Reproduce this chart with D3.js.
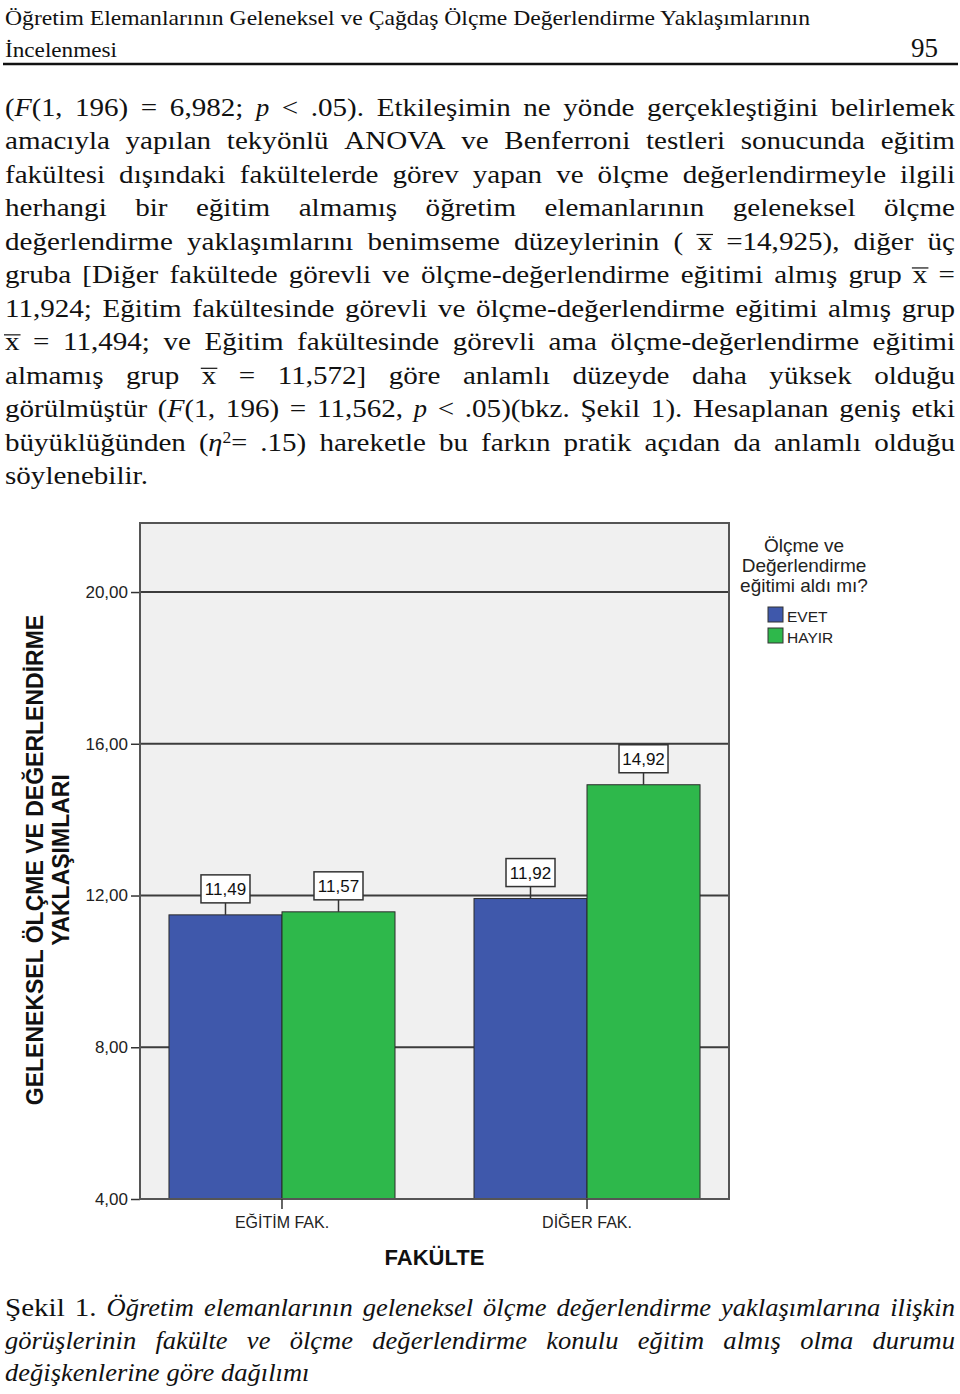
<!DOCTYPE html>
<html>
<head>
<meta charset="utf-8">
<script src="https://cdn.jsdelivr.net/npm/d3@7"></script>
<style>
  html, body { margin: 0; padding: 0; background: #fff; }
  svg { display: block; }
</style>
</head>
<body>
<div id="page"></div>
<script>
// ---- data ----
const categories = ["EĞİTİM FAK.", "DİĞER FAK."];
const groups = ["EVET", "HAYIR"];
const evetValues = [11.49, 11.92];
const hayirValues = [11.57, 14.92];
const yTicks = [4, 8, 12, 16, 20];
const legendTitle = ["Ölçme ve", "Değerlendirme", "eğitimi aldı mı?"];
const yTitle = ["GELENEKSEL ÖLÇME VE DEĞERLENDİRME", "YAKLAŞIMLARI"];
const xTitle = "FAKÜLTE";

const headerLines = ["Öğretim Elemanlarının Geleneksel ve Çağdaş Ölçme Değerlendirme Yaklaşımlarının", "İncelenmesi"];
const pageNumber = "95";

// _ toggles italic, ^ toggles superscript, # toggles overline
const bodyLines = [
  "(_F_(1, 196) = 6,982; _p_ < .05). Etkileşimin ne yönde gerçekleştiğini belirlemek",
  "amacıyla yapılan tekyönlü ANOVA ve Benferroni testleri sonucunda eğitim",
  "fakültesi dışındaki fakültelerde görev yapan ve ölçme değerlendirmeyle ilgili",
  "herhangi bir eğitim almamış öğretim elemanlarının geleneksel ölçme",
  "değerlendirme yaklaşımlarını benimseme düzeylerinin ( #x# =14,925), diğer üç",
  "gruba [Diğer fakültede görevli ve ölçme-değerlendirme eğitimi almış grup #x# =",
  "11,924; Eğitim fakültesinde görevli ve ölçme-değerlendirme eğitimi almış grup",
  "#x# = 11,494; ve Eğitim fakültesinde görevli ama ölçme-değerlendirme eğitimi",
  "almamış grup #x# = 11,572] göre anlamlı düzeyde daha yüksek olduğu",
  "görülmüştür (_F_(1, 196) = 11,562, _p_ < .05)(bkz. Şekil 1). Hesaplanan geniş etki",
  "büyüklüğünden (_η_^2^= .15) hareketle bu farkın pratik açıdan da anlamlı olduğu",
  "söylenebilir."
];
const captionLines = [
  "_Şekil_ _1._ Öğretim elemanlarının geleneksel ölçme değerlendirme yaklaşımlarına ilişkin",
  "görüşlerinin fakülte ve ölçme değerlendirme konulu eğitim almış olma durumu",
  "değişkenlerine göre dağılımı"
];

// ---- setup ----
const W = 960, H = 1394;
const serif = "'Liberation Serif', 'DejaVu Serif', serif";
const sans = "'Liberation Sans', Arial, sans-serif";

const svg = d3.select("#page").append("svg")
    .attr("width", W)
    .attr("height", H);

const trLocale = d3.formatLocale({decimal: ",", thousands: ".", grouping: [3], currency: ["", ""]});
const fmt = trLocale.format(".2f");

// ---- text helpers ----
// Times is narrower than the book face of the original, so upright runs get widened
const WIDEN_UP = 1.14, WIDEN_IT = 1.04;

function addRuns(text, word, size, baseItalic) {
    let italic = baseItalic, sup = false, over = false;
    const runs = [];
    word.split(/([_^#])/).forEach(tok => {
        if (tok === "_") { italic = !italic; return; }
        if (tok === "^") { sup = !sup; return; }
        if (tok === "#") { over = !over; return; }
        if (!tok) return;
        const ts = text.append("tspan")
            .attr("font-style", italic ? "italic" : "normal")
            .text(tok);
        if (sup) ts.attr("font-size", size * 0.62).attr("baseline-shift", "super");
        runs.push({node: ts.node(), italic});
    });
    // target width of this word
    return d3.sum(runs, r => r.node.getComputedTextLength() * (r.italic ? WIDEN_IT : WIDEN_UP));
}

function drawLine(parent, line, y, o) {
    const words = line.split(" ");
    const items = words.map(w => {
        const t = parent.append("text")
            .attr("y", y)
            .attr("font-family", serif)
            .attr("font-size", o.size)
            .attr("fill", "#111");
        const wdt = addRuns(t, w, o.size, o.italic);
        return {t, w: wdt, over: w.includes("#")};
    });
    let total = d3.sum(items, d => d.w);
    const minGap = o.size * 0.22;
    // squeeze if a line would not fit
    if (total + minGap * (items.length - 1) > o.x1 - o.x0) {
        const f = (o.x1 - o.x0 - minGap * (items.length - 1)) / total;
        items.forEach(d => d.w *= f);
        total = d3.sum(items, d => d.w);
    }
    const gap = (o.justify && items.length > 1)
        ? (o.x1 - o.x0 - total) / (items.length - 1)
        : o.size * 0.27;
    let x = o.x0;
    items.forEach(d => {
        d.t.attr("x", x)
            .attr("textLength", d.w)
            .attr("lengthAdjust", "spacingAndGlyphs");
        if (d.over) {
            parent.append("line")
                .attr("x1", x - 1).attr("x2", x + d.w + 1)
                .attr("y1", y - o.size * 0.6).attr("y2", y - o.size * 0.6)
                .attr("stroke", "#111").attr("stroke-width", 1.2);
        }
        x += d.w + gap;
    });
}

// ---- header ----
const header = svg.append("g");
header.append("text")
    .attr("x", 5).attr("y", 25)
    .attr("font-family", serif).attr("font-size", 21).attr("fill", "#111")
    .attr("textLength", 805).attr("lengthAdjust", "spacingAndGlyphs")
    .text(headerLines[0]);
header.append("text")
    .attr("x", 5).attr("y", 57)
    .attr("font-family", serif).attr("font-size", 21).attr("fill", "#111")
    .attr("textLength", 112).attr("lengthAdjust", "spacingAndGlyphs")
    .text(headerLines[1]);
header.append("text")
    .attr("x", 938).attr("y", 57)
    .attr("text-anchor", "end")
    .attr("font-family", serif).attr("font-size", 27).attr("fill", "#111")
    .text(pageNumber);
header.append("line")
    .attr("x1", 3).attr("x2", 958)
    .attr("y1", 64).attr("y2", 64)
    .attr("stroke", "#111").attr("stroke-width", 2.5);

// ---- body paragraph ----
const body = svg.append("g");
bodyLines.forEach((line, i) => {
    drawLine(body, line, 116 + i * 33.45, {
        size: 25.5, x0: 5, x1: 955, italic: false,
        justify: i < bodyLines.length - 1
    });
});

// ---- chart ----
const plot = {left: 140, right: 729, top: 523, bottom: 1199};

const y = d3.scaleLinear()
    .domain([4, 21.82])
    .range([plot.bottom, plot.top]);

const x = d3.scaleBand()
    .domain(categories)
    .range([plot.left, plot.right])
    .paddingInner(0.259)
    .paddingOuter(0.095);

const xSub = d3.scaleBand()
    .domain(groups)
    .range([0, x.bandwidth()]);

const color = d3.scaleOrdinal()
    .domain(groups)
    .range(["#3f58ab", "#2eb84b"]);

const chart = svg.append("g");

chart.append("rect")
    .attr("x", plot.left).attr("y", plot.top)
    .attr("width", plot.right - plot.left)
    .attr("height", plot.bottom - plot.top)
    .attr("fill", "#f0f0f0");

// gridlines
chart.selectAll(".grid")
    .data(yTicks)
    .join("line")
    .attr("class", "grid")
    .attr("x1", plot.left).attr("x2", plot.right)
    .attr("y1", d => y(d)).attr("y2", d => y(d))
    .attr("stroke", "#3c3c3c")
    .attr("stroke-width", 2);

// y axis ticks + labels
const yAxis = chart.append("g")
    .attr("transform", `translate(${plot.left},0)`)
    .call(d3.axisLeft(y).tickValues(yTicks).tickFormat(fmt).tickSize(9).tickPadding(3));
yAxis.select(".domain").remove();
yAxis.selectAll(".tick line").attr("stroke", "#333").attr("stroke-width", 1.5);
yAxis.selectAll(".tick text")
    .attr("font-family", sans).attr("font-size", 17).attr("fill", "#222");

// bars
const rows = categories.map((c, i) => ({
    cat: c,
    vals: [
        {group: groups[0], value: evetValues[i]},
        {group: groups[1], value: hayirValues[i]}
    ]
}));

const catG = chart.selectAll(".cat")
    .data(rows)
    .join("g")
    .attr("class", "cat")
    .attr("transform", d => `translate(${x(d.cat)},0)`);

catG.selectAll("rect")
    .data(d => d.vals)
    .join("rect")
    .attr("x", d => xSub(d.group))
    .attr("y", d => y(d.value))
    .attr("width", xSub.bandwidth())
    .attr("height", d => y(4) - y(d.value))
    .attr("fill", d => color(d.group))
    .attr("stroke", "#2a2a2a")
    .attr("stroke-width", 1);

// value labels
const boxW = 49, boxH = 28, lift = 12;
const lab = catG.selectAll(".lab")
    .data(d => d.vals)
    .join("g")
    .attr("class", "lab")
    .attr("transform", d => `translate(${xSub(d.group) + xSub.bandwidth() / 2},${y(d.value)})`);
lab.append("line")
    .attr("y1", 0).attr("y2", -lift)
    .attr("stroke", "#333").attr("stroke-width", 1.5);
lab.append("rect")
    .attr("x", -boxW / 2).attr("y", -lift - boxH)
    .attr("width", boxW).attr("height", boxH)
    .attr("fill", "#fff")
    .attr("stroke", "#333").attr("stroke-width", 1.5);
lab.append("text")
    .attr("y", -lift - boxH / 2 + 6)
    .attr("text-anchor", "middle")
    .attr("font-family", sans).attr("font-size", 17).attr("fill", "#111")
    .text(d => fmt(d.value));

// frame on top
chart.append("rect")
    .attr("x", plot.left).attr("y", plot.top)
    .attr("width", plot.right - plot.left)
    .attr("height", plot.bottom - plot.top)
    .attr("fill", "none")
    .attr("stroke", "#555")
    .attr("stroke-width", 2);

// x axis
const xAxis = chart.append("g")
    .attr("transform", `translate(0,${plot.bottom})`)
    .call(d3.axisBottom(x).tickSize(10).tickPadding(8));
xAxis.select(".domain").remove();
xAxis.selectAll(".tick line").attr("stroke", "#333").attr("stroke-width", 1.5);
xAxis.selectAll(".tick text")
    .attr("font-family", sans).attr("font-size", 16).attr("fill", "#222");

chart.append("text")
    .attr("x", (plot.left + plot.right) / 2).attr("y", 1265)
    .attr("text-anchor", "middle")
    .attr("font-family", sans).attr("font-size", 22).attr("font-weight", "bold")
    .attr("fill", "#111")
    .text(xTitle);

// y title
yTitle.forEach((t, i) => {
    chart.append("text")
        .attr("transform", `translate(${i === 0 ? 43 : 69},860) rotate(-90)`)
        .attr("text-anchor", "middle")
        .attr("font-family", sans).attr("font-size", 23).attr("font-weight", "bold")
        .attr("fill", "#111")
        .text(t);
});

// legend
const legend = chart.append("g");
legend.selectAll(".lt")
    .data(legendTitle)
    .join("text")
    .attr("class", "lt")
    .attr("x", 804)
    .attr("y", (d, i) => 552 + i * 20)
    .attr("text-anchor", "middle")
    .attr("font-family", sans).attr("font-size", 19).attr("fill", "#222")
    .text(d => d);

const li = legend.selectAll(".li")
    .data(groups)
    .join("g")
    .attr("class", "li")
    .attr("transform", (d, i) => `translate(768,${607 + i * 21})`);
li.append("rect")
    .attr("width", 15).attr("height", 15)
    .attr("fill", d => color(d))
    .attr("stroke", "#333").attr("stroke-width", 1);
li.append("text")
    .attr("x", 19).attr("y", 15)
    .attr("font-family", sans).attr("font-size", 15.5).attr("fill", "#222")
    .text(d => d);

// ---- caption ----
const cap = svg.append("g");
captionLines.forEach((line, i) => {
    drawLine(cap, line, 1316 + i * 32.5, {
        size: 25.5, x0: 5, x1: 955, italic: true,
        justify: i < captionLines.length - 1
    });
});
</script>
</body>
</html>
